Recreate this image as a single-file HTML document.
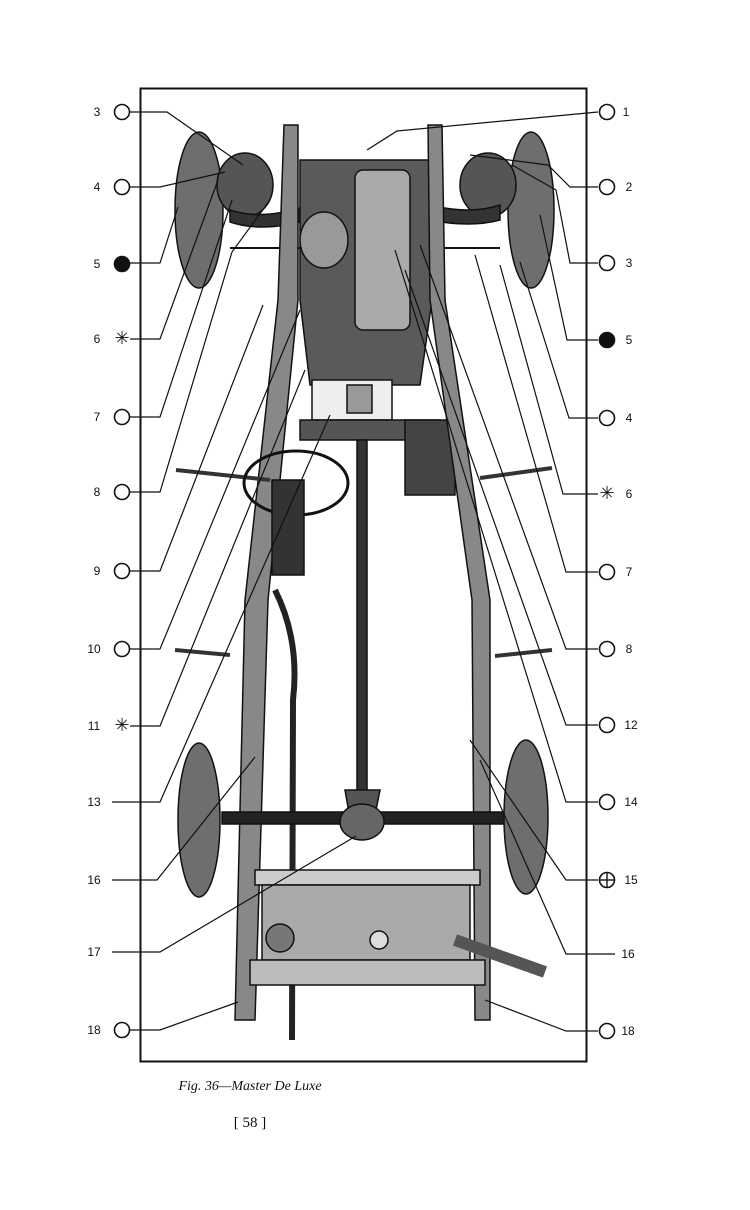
<!DOCTYPE html>
<html><head><meta charset="utf-8"><style>
html,body{margin:0;padding:0;background:#fff;}
svg{display:block}
text{font-family:"Liberation Sans",sans-serif;font-size:12px;fill:#111}
.cap{font-family:"Liberation Serif",serif;font-style:italic;font-size:14px}
.pg{font-family:"Liberation Serif",serif;font-size:15px}
</style></head><body>
<svg width="750" height="1210" viewBox="0 0 750 1210" xmlns="http://www.w3.org/2000/svg">
<rect width="750" height="1210" fill="#fff"/>
<!-- photo approximation -->
<g stroke="#111" stroke-width="1.5">
 <!-- front wheels -->
 <ellipse cx="199" cy="210" rx="24" ry="78" fill="#6e6e6e"/>
 <ellipse cx="531" cy="210" rx="23" ry="78" fill="#6e6e6e"/>
 <ellipse cx="245" cy="185" rx="28" ry="32" fill="#555"/>
 <ellipse cx="488" cy="185" rx="28" ry="32" fill="#555"/>
 <!-- front axle -->
 <path d="M230 210 Q260 220 300 208 L430 205 Q470 215 500 205 L500 220 Q470 228 430 220 L300 222 Q260 232 230 222Z" fill="#333"/>
 <!-- tie rods -->
 <line x1="230" y1="248" x2="500" y2="248" stroke-width="2"/>
 <!-- engine -->
 <path d="M300 160 L430 160 L432 300 L420 385 L310 385 L300 300Z" fill="#5a5a5a"/>
 <rect x="355" y="170" width="55" height="160" rx="8" fill="#aaa"/>
 <ellipse cx="324" cy="240" rx="24" ry="28" fill="#999"/>
 <rect x="312" y="380" width="80" height="40" fill="#eee"/>
 <rect x="347" y="385" width="25" height="28" fill="#999"/>
 <path d="M300 420 L440 420 L440 440 L300 440Z" fill="#555"/>
 <!-- battery -->
 <rect x="405" y="420" width="50" height="75" fill="#444"/>
 <!-- frame rails -->
 <path d="M284 125 L298 125 L298 300 L268 600 L255 1020 L235 1020 L245 600 L278 300Z" fill="#888"/>
 <path d="M428 125 L442 125 L445 300 L490 600 L490 1020 L475 1020 L472 600 L430 300Z" fill="#888"/>
 <!-- cross bars -->
 <line x1="176" y1="470" x2="270" y2="480" stroke-width="4" stroke="#333"/>
 <line x1="480" y1="478" x2="552" y2="468" stroke-width="4" stroke="#333"/>
 <line x1="175" y1="650" x2="230" y2="655" stroke-width="4" stroke="#333"/>
 <line x1="495" y1="656" x2="552" y2="650" stroke-width="4" stroke="#333"/>
 <!-- steering -->
 <ellipse cx="296" cy="483" rx="52" ry="32" fill="none" stroke-width="3"/>
 <rect x="272" y="480" width="32" height="95" fill="#333"/>
 <!-- exhaust -->
 <path d="M275 590 Q300 640 293 700 L292 1040" fill="none" stroke-width="6" stroke="#222"/>
 <!-- driveshaft -->
 <rect x="357" y="440" width="10" height="360" fill="#333"/>
 <path d="M345 790 L380 790 L372 830 L352 830Z" fill="#555"/>
 <!-- rear axle -->
 <rect x="222" y="812" width="285" height="12" fill="#222"/>
 <ellipse cx="362" cy="822" rx="22" ry="18" fill="#666"/>
 <!-- rear wheels -->
 <ellipse cx="199" cy="820" rx="21" ry="77" fill="#6e6e6e"/>
 <ellipse cx="526" cy="817" rx="22" ry="77" fill="#6e6e6e"/>
 <!-- fuel tank -->
 <rect x="255" y="870" width="225" height="15" fill="#ccc"/>
 <rect x="262" y="885" width="208" height="75" fill="#aaa"/>
 <rect x="250" y="960" width="235" height="25" fill="#bbb"/>
 <circle cx="280" cy="938" r="14" fill="#777"/>
 <circle cx="379" cy="940" r="9" fill="#ddd"/>
 <!-- spare tube -->
 <path d="M455 940 L545 972" stroke="#555" stroke-width="12"/>
</g>
<!-- frame border -->
<rect x="140.5" y="88.5" width="446" height="973" fill="none" stroke="#111" stroke-width="2"/>
<!-- leaders -->
<g stroke="#111" stroke-width="1.2" fill="none">
 <polyline points="130,112 167,112 243,165"/>
 <polyline points="130,187 160,187 225,172"/>
 <polyline points="130,263 160,263 178,207"/>
 <polyline points="130,339 160,339 218,180"/>
 <polyline points="130,417 160,417 232,200"/>
 <polyline points="130,492 160,492 232,252 270,200"/>
 <polyline points="130,571 160,571 263,305"/>
 <polyline points="130,649 160,649 300,310"/>
 <polyline points="130,726 160,726 305,370"/>
 <polyline points="112,802 160,802 330,415"/>
 <polyline points="112,880 157,880 255,757"/>
 <polyline points="112,952 160,952 356,836"/>
 <polyline points="130,1030 160,1030 238,1002"/>
 <polyline points="598,112 397,131 367,150"/>
 <polyline points="598,187 570,187 548,165 470,155"/>
 <polyline points="598,263 570,263 556,190 512,165"/>
 <polyline points="598,340 567,340 540,215"/>
 <polyline points="598,418 569,418 520,262"/>
 <polyline points="598,494 563,494 500,265"/>
 <polyline points="598,572 566,572 475,255"/>
 <polyline points="598,649 566,649 420,245"/>
 <polyline points="598,725 566,725 405,270"/>
 <polyline points="598,802 566,802 395,250"/>
 <polyline points="598,880 566,880 470,740"/>
 <polyline points="615,954 566,954 480,760"/>
 <polyline points="598,1031 566,1031 485,1000"/>
</g>
<!-- left markers -->
<g stroke="#111" stroke-width="1.6" fill="#fff">
 <circle cx="122" cy="112" r="7.5"/><circle cx="122" cy="187" r="7.5"/>
 <circle cx="122" cy="264" r="7.5" fill="#111"/>
 <circle cx="122" cy="417" r="7.5"/><circle cx="122" cy="492" r="7.5"/>
 <circle cx="122" cy="571" r="7.5"/><circle cx="122" cy="649" r="7.5"/>
 <circle cx="122" cy="1030" r="7.5"/>
 <circle cx="607" cy="112" r="7.5"/><circle cx="607" cy="187" r="7.5"/>
 <circle cx="607" cy="263" r="7.5"/><circle cx="607" cy="340" r="7.5" fill="#111"/>
 <circle cx="607" cy="418" r="7.5"/><circle cx="607" cy="572" r="7.5"/>
 <circle cx="607" cy="649" r="7.5"/><circle cx="607" cy="725" r="7.5"/>
 <circle cx="607" cy="802" r="7.5"/><circle cx="607" cy="880" r="7.5"/>
 <circle cx="607" cy="1031" r="7.5"/>
</g>
<g stroke="#111" stroke-width="1.4">
 <line x1="600" y1="880" x2="614" y2="880"/><line x1="607" y1="873" x2="607" y2="887"/>
</g>
<g font-size="16">
 <text x="122" y="344" text-anchor="middle" style="font-size:18px">✳</text>
 <text x="122" y="731" text-anchor="middle" style="font-size:18px">✳</text>
 <text x="607" y="499" text-anchor="middle" style="font-size:18px">✳</text>
</g>
<g text-anchor="middle">
 <text x="97" y="116">3</text><text x="97" y="191">4</text><text x="97" y="268">5</text>
 <text x="97" y="343">6</text><text x="97" y="421">7</text><text x="97" y="496">8</text>
 <text x="97" y="575">9</text><text x="94" y="653">10</text><text x="94" y="730">11</text>
 <text x="94" y="806">13</text><text x="94" y="884">16</text><text x="94" y="956">17</text>
 <text x="94" y="1034">18</text>
 <text x="626" y="116">1</text><text x="629" y="191">2</text><text x="629" y="267">3</text>
 <text x="629" y="344">5</text><text x="629" y="422">4</text><text x="629" y="498">6</text>
 <text x="629" y="576">7</text><text x="629" y="653">8</text><text x="631" y="729">12</text>
 <text x="631" y="806">14</text><text x="631" y="884">15</text><text x="628" y="958">16</text>
 <text x="628" y="1035">18</text>
</g>
<text class="cap" x="250" y="1090" text-anchor="middle">Fig. 36—Master De Luxe</text>
<text class="pg" x="250" y="1127" text-anchor="middle">[ 58 ]</text>
</svg>
</body></html>
